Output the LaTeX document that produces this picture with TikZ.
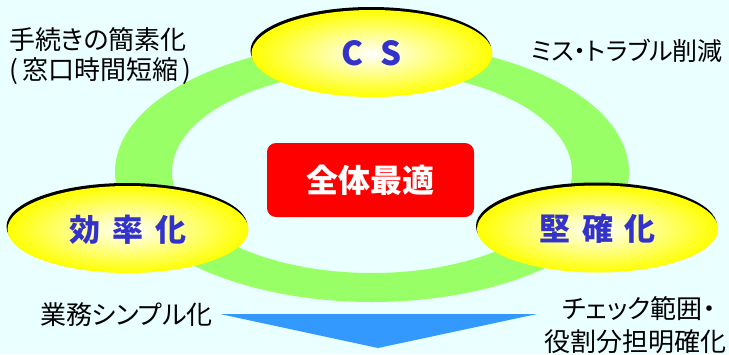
\documentclass[tikz,border=0pt]{standalone}
\usepackage{fontspec}
\newfontfamily\jp{Noto Sans CJK JP}[RawFeature=+palt]
\usetikzlibrary{shapes.geometric}
\definecolor{bgcyan}{HTML}{EAFFFF}
\definecolor{ringgreen}{HTML}{99FF66}
\definecolor{labelblue}{HTML}{3333CC}
\definecolor{arrowblue}{HTML}{3399FF}
\definecolor{boxred}{HTML}{FF0000}
\tikzset{
  yell/.style={ellipse, minimum width=241pt, minimum height=87pt, inner sep=0pt,
    shade, inner color=white, outer color=yellow, font=\jp\bfseries\fontsize{31}{31}\selectfont, text=labelblue},
  shad/.style={ellipse, minimum width=241pt, minimum height=87pt, inner sep=0pt, fill=black},
  note/.style={font=\jp\fontsize{26}{33}\selectfont, text=black, inner sep=1pt},
}
\begin{document}
\begin{tikzpicture}[x=1pt,y=-1pt]
\useasboundingbox (0,0) rectangle (729,354);
\fill[bgcyan] (0,0) rectangle (729,354);
% green ring
\fill[ringgreen, even odd rule] (372,172) ellipse [x radius=257, y radius=130]
  (372,172) ellipse [x radius=200, y radius=101];
% ellipses with dark offset edge
\node[shad] (csS) at (371,50.5) {};
\node[yell, font=\jp\bfseries\fontsize{33}{33}\selectfont] (cs) at (372,53.5) {C\hspace{17pt}S};
\node[shad] (effS) at (127,226.5) {};
\node[yell] (eff) at (128,229.5) {効\hspace{12pt}率\hspace{12pt}化};
\node[shad] (solS) at (596.5,226) {};
\node[yell] (sol) at (597.5,229) {堅\hspace{12pt}確\hspace{12pt}化};
% central box
\node[fill=boxred, rounded corners=9pt, minimum width=207pt, minimum height=74pt, inner sep=0pt,
  text=white, font=\jp\bfseries\fontsize{32}{32}\selectfont] (opt) at (370.5,180) {全体最適};
% blue triangle
\coordinate (tl) at (220,314);
\coordinate (tr) at (537,314);
\coordinate (tb) at (378,348);
\fill[arrowblue] (tl) -- (tr) -- (tb) -- cycle;
% notes
\node[note, anchor=west] (n1a) at (8,39.5) {手続きの簡素化};
\node[note, anchor=west] (n1b) at (8,71.5) {(\hspace{5pt}窓口時間短縮\hspace{4pt})};
\node[note, anchor=east, font=\jp\fontsize{25}{30}\selectfont] (n2) at (724,51) {ミス・トラブル削減};
\node[note, anchor=east] (n3) at (214,315) {業務シンプル化};
\node[note, anchor=east] (n4a) at (717,309) {チェック範囲・};
\node[note, anchor=east] (n4b) at (728,341.5) {役割分担明確化};
\end{tikzpicture}
\end{document}
